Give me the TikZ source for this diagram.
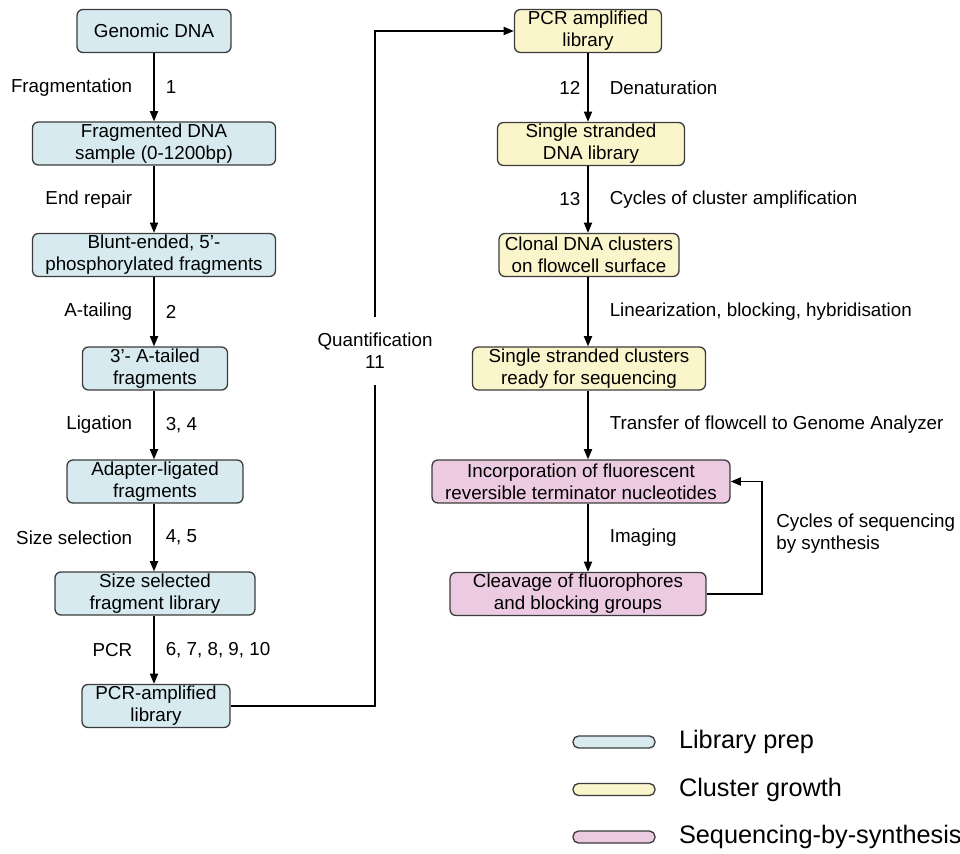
\documentclass[tikz,border=0pt]{standalone}
\usepackage{fontspec}
\setmainfont{Liberation Sans}
\usetikzlibrary{positioning}
\usetikzlibrary{arrows.meta}

\definecolor{libblue}{RGB}{214,234,240}
\definecolor{clusteryellow}{RGB}{250,245,202}
\definecolor{seqpink}{RGB}{236,202,226}
\definecolor{boxline}{RGB}{60,60,60}

\tikzset{
    stepbox/.style={draw=boxline, line width=0.75pt, rounded corners=3.4pt, align=center,
        minimum height=0.86cm, inner xsep=2pt, inner ysep=1pt, font=\fontsize{10.7pt}{12.5pt}\selectfont},
    libbox/.style={stepbox, fill=libblue},
    clustbox/.style={stepbox, fill=clusteryellow},
    seqbox/.style={stepbox, fill=seqpink},
    lab/.style={inner sep=0pt, font=\fontsize{10.7pt}{12.5pt}\selectfont},
    flow/.style={line width=0.9pt, -{Triangle[length=5.8pt,width=4.6pt]}},
    plain/.style={line width=0.9pt},
    key/.style={draw=boxline, line width=0.75pt, rounded corners=0.11cm, minimum width=1.64cm, minimum height=0.24cm, inner sep=0pt},
    keytext/.style={inner sep=0pt, anchor=west, font=\fontsize{14.4pt}{16pt}\selectfont}
}

\begin{document}
\begin{tikzpicture}[x=0.02cm, y=-0.02cm]

    \useasboundingbox (0,0) rectangle (960,854);

    \node[libbox, minimum width=3.08cm] (gdna) at (154,31) {Genomic DNA};
    \node[libbox, minimum width=4.86cm] (frag) at (154,143.5) {Fragmented DNA\\sample (0-1200bp)};
    \node[libbox, minimum width=4.86cm] (blunt) at (154,255) {Blunt-ended, 5'-\\phosphorylated fragments};
    \node[libbox, minimum width=2.90cm] (atail) at (155,368.5) {3'- A-tailed\\fragments};
    \node[libbox, minimum width=3.52cm] (adapt) at (155,481.5) {Adapter-ligated\\fragments};
    \node[libbox, minimum width=4.00cm] (sizesel) at (155,593.5) {Size selected\\fragment library};
    \node[libbox, minimum width=2.96cm] (pcrlib) at (156,706) {PCR-amplified\\library};

    \draw[flow] (gdna) -- (frag) node[lab, midway, left=0.42cm] {Fragmentation} node[lab, midway, right=0.22cm] {1};
    \draw[flow] (frag) -- (blunt) node[lab, midway, left=0.42cm] {End repair};
    \draw[flow] (blunt.south -| gdna) -- (atail.north -| gdna) node[lab, midway, left=0.42cm] {A-tailing} node[lab, midway, right=0.22cm] {2};
    \draw[flow] (atail.south -| gdna) -- (adapt.north -| gdna) node[lab, midway, left=0.42cm] {Ligation} node[lab, midway, right=0.22cm] {3, 4};
    \draw[flow] (adapt.south -| gdna) -- (sizesel.north -| gdna) node[lab, midway, left=0.42cm] {Size selection} node[lab, midway, right=0.22cm] {4, 5};
    \draw[flow] (sizesel.south -| gdna) -- (pcrlib.north -| gdna) node[lab, midway, left=0.42cm] {PCR} node[lab, midway, right=0.22cm] {6, 7, 8, 9, 10};

    \node[clustbox, minimum width=2.94cm] (pcramp) at (588,31) {PCR amplified\\library};
    \node[clustbox, minimum width=3.74cm] (sslib) at (591,144) {Single stranded\\DNA library};
    \node[clustbox, minimum width=3.60cm] (clonal) at (589,255) {Clonal DNA clusters\\on flowcell surface};
    \node[clustbox, minimum width=4.66cm] (ssclust) at (589,368.5) {Single stranded clusters\\ready for sequencing};
    \node[seqbox, minimum width=5.96cm] (incorp) at (581,481.5) {Incorporation of fluorescent\\reversible terminator nucleotides};
    \node[seqbox, minimum width=5.12cm] (cleave) at (578,594) {Cleavage of fluorophores\\and blocking groups};

    \coordinate (rcol) at (588,0);
    \draw[flow] (pcramp.south -| rcol) -- (sslib.north -| rcol) node[lab, midway, left=0.14cm] {12} node[lab, midway, right=0.42cm] {Denaturation};
    \draw[flow] (sslib.south -| rcol) -- (clonal.north -| rcol) node[lab, midway, left=0.14cm] {13} node[lab, midway, right=0.42cm] {Cycles of cluster amplification};
    \draw[flow] (clonal.south -| rcol) -- (ssclust.north -| rcol) node[lab, midway, right=0.42cm] {Linearization, blocking, hybridisation};
    \draw[flow] (ssclust.south -| rcol) -- (incorp.north -| rcol) node[lab, midway, right=0.42cm] {Transfer of flowcell to Genome Analyzer};
    \draw[flow] (incorp.south -| rcol) -- (cleave.north -| rcol) node[lab, midway, right=0.42cm] {Imaging};

    \coordinate (loop) at (762,534);
    \draw[flow] (cleave.east) -| (loop) |- (incorp.east);
    \node[lab, align=left, anchor=west, right=0.28cm of loop] (cyclab) {Cycles of sequencing\\by synthesis};

    \node[lab, align=center, minimum height=1.34cm] (quant) at (375,351) {Quantification\\11};
    \draw[plain] (pcrlib.east) -| (quant.south);
    \draw[flow] (quant.north) |- (pcramp.west);

    \node[key, fill=libblue] (k1) at (614,742) {};
    \node[key, fill=clusteryellow] (k2) at (614,789.5) {};
    \node[key, fill=seqpink] (k3) at (614,837) {};
    \node[keytext, right=0.46cm of k1] {Library prep};
    \node[keytext, right=0.46cm of k2] {Cluster growth};
    \node[keytext, right=0.46cm of k3] {Sequencing-by-synthesis};

\end{tikzpicture}
\end{document}
